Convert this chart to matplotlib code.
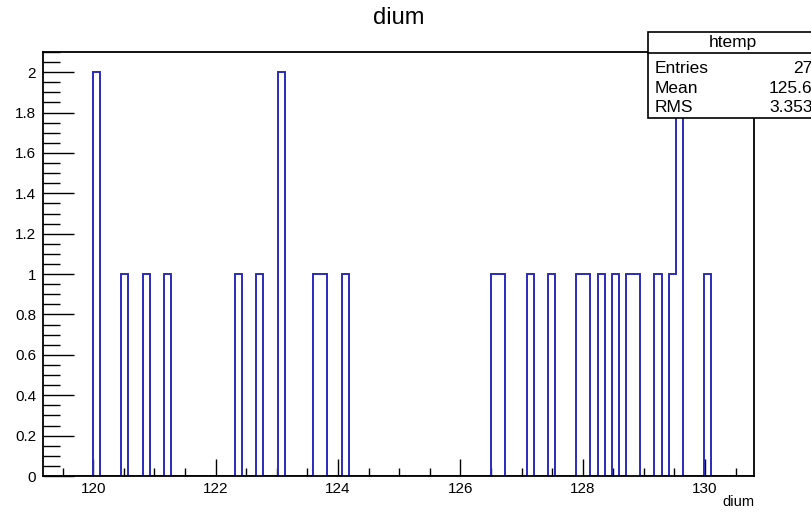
import numpy as np
import matplotlib
matplotlib.use("Agg")
import matplotlib.pyplot as plt
from matplotlib.patches import Rectangle
from matplotlib.ticker import MultipleLocator

plt.rcParams['font.family'] = ['Liberation Sans', 'DejaVu Sans']

# tree entries for dium
dium = [120.05, 120.05, 120.52, 120.86, 121.22, 122.38, 122.73, 123.09, 123.09,
        123.66, 123.78, 124.12, 126.56, 126.68, 127.14, 127.50, 127.97, 128.09,
        128.32, 128.53, 128.78, 128.90, 129.24, 129.47, 129.58, 129.58, 130.05]
nbins = 100
xrange_ = (119.18, 130.80)
stat_names = ['Entries', 'Mean', 'RMS']
stat_values = [str(len(dium)), '125.6', '3.353']

fig = plt.figure(figsize=(8.12, 5.14), dpi=100)
ax = fig.add_axes([0.053, 0.0739, 0.8756, 0.8249])

counts, edges, _ = ax.hist(dium, bins=nbins, range=xrange_, histtype='step',
                           color='#2b2bbf', linewidth=1.4)
ax.set_xlim(*xrange_)
ax.set_ylim(0, 1.05 * counts.max())

for s in ax.spines.values():
    s.set_linewidth(1.3)
    s.set_zorder(5)

ax.xaxis.set_major_locator(MultipleLocator(2))
ax.xaxis.set_minor_locator(MultipleLocator(0.5))
ax.yaxis.set_major_locator(MultipleLocator(0.2))
ax.yaxis.set_minor_locator(MultipleLocator(0.05))
ax.tick_params(axis='x', which='major', direction='in', length=12, width=1, top=False, labelsize=11, pad=4)
ax.tick_params(axis='x', which='minor', direction='in', length=6, width=1, top=False)
ax.tick_params(axis='y', which='major', direction='in', length=22, width=1, right=False, labelsize=11, pad=5)
ax.tick_params(axis='y', which='minor', direction='in', length=12, width=1, right=False)
ax.yaxis.set_major_formatter(plt.FuncFormatter(lambda v, p: ('%g' % round(v, 2))))

fig.text(0.491, 0.965, 'dium', ha='center', va='center', fontsize=17)
fig.text(0.9286, 0.01, 'dium', ha='right', va='bottom', fontsize=10.5)

# stats box
box = Rectangle((0.798, 0.7704), 0.25, 0.1673, transform=fig.transFigure,
                facecolor='white', edgecolor='black', linewidth=1.2, zorder=10)
fig.add_artist(box)
fig.add_artist(plt.Line2D([0.798, 1.0], [0.8969, 0.8969], transform=fig.transFigure,
                          color='black', linewidth=1.2, zorder=11))
fig.text(0.9025, 0.917, 'htemp', ha='center', va='center', fontsize=12.5, zorder=12)
ys = [0.866, 0.828, 0.79]
for name, val, y in zip(stat_names, stat_values, ys):
    fig.text(0.806, y, name, ha='left', va='center', fontsize=12.5, zorder=12)
    fig.text(1.0005, y, val, ha='right', va='center', fontsize=12.5, zorder=12)

fig.savefig('out.png', dpi=100)
